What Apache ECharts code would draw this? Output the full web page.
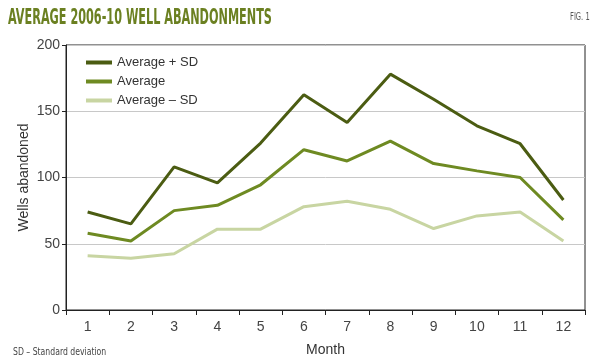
<!DOCTYPE html>
<html><head><meta charset="utf-8">
<script src="https://cdn.jsdelivr.net/npm/echarts@6/dist/echarts.min.js"></script>
<style>html,body{margin:0;padding:0;background:#fff}#c{width:600px;height:362px}</style>
</head><body><div id="c"></div>
<script>
const months = ['1','2','3','4','5','6','7','8','9','10','11','12'];
const avgPlusSD = [74, 65, 108, 96, 126, 162.5, 141.5, 178, 159, 139, 125.5, 83];
const avg = [58, 52, 75, 79, 94.5, 121, 112.5, 127.5, 110.5, 105, 100, 68];
const avgMinusSD = [41, 39, 42.5, 61, 61, 78, 82, 76, 61.5, 71, 74, 52];
const seriesNames = ['Average + SD', 'Average', 'Average \u2013 SD'];
const colors = ['#4b5c12', '#6e8a22', '#c8d5a2'];

const chart = echarts.init(document.getElementById('c'));
const lbl = {fontFamily: 'Liberation Sans, Arial, sans-serif', color: '#444', fontSize: 14};
const condensed = 'DejaVu Sans Condensed, Liberation Sans Narrow, sans-serif';
chart.setOption({
  animation: false,
  graphic: [
    {type: 'text', x: 8, y: 8, scaleX: 0.595, silent: true,
     style: {text: 'AVERAGE 2006-10 WELL ABANDONMENTS', fontFamily: condensed, fontWeight: 'bold', fontSize: 21, fill: '#6b8021', verticalAlign: 'top'}},
    {type: 'text', x: 570, y: 12, scaleX: 0.75, silent: true,
     style: {text: 'FIG. 1', fontFamily: condensed, fontSize: 10, fill: '#555', verticalAlign: 'top'}},
    {type: 'text', x: 13, y: 347, scaleX: 0.86, silent: true,
     style: {text: 'SD \u2013 Standard deviation', fontFamily: condensed, fontSize: 10, fill: '#444', verticalAlign: 'top'}}
  ],
  grid: {left: 66, right: 15, top: 45, bottom: 50, show: true, borderColor: '#222', borderWidth: 1, backgroundColor: 'transparent'},
  legend: {
    orient: 'vertical', left: 81, top: 51, itemGap: 6, itemWidth: 26, itemHeight: 4, icon: 'rect',
    data: seriesNames,
    textStyle: {fontFamily: 'Liberation Sans, Arial, sans-serif', color: '#333', fontSize: 13}
  },
  xAxis: {
    type: 'category', data: months, boundaryGap: true,
    name: 'Month', nameLocation: 'middle', nameGap: 33,
    nameTextStyle: Object.assign({}, lbl, {fontSize: 14, color: '#333'}),
    axisLine: {lineStyle: {color: '#222'}},
    axisTick: {show: true, alignWithLabel: false, length: 5, lineStyle: {color: '#222'}},
    axisLabel: Object.assign({margin: 10}, lbl)
  },
  yAxis: {
    type: 'value', min: 0, max: 200, interval: 50,
    name: 'Wells abandoned', nameLocation: 'middle', nameGap: 35, nameMoveOverlap: false,
    nameTextStyle: Object.assign({}, lbl, {fontSize: 14, color: '#333'}),
    axisLine: {show: true, lineStyle: {color: '#222'}},
    axisTick: {show: true, length: 4, lineStyle: {color: '#222'}},
    axisLabel: Object.assign({margin: 6}, lbl),
    splitLine: {lineStyle: {color: '#c8c8c8'}}
  },
  series: [
    {name: seriesNames[0], type: 'line', data: avgPlusSD, symbol: 'none', lineStyle: {width: 3, color: colors[0]}, itemStyle: {color: colors[0]}, z: 3},
    {name: seriesNames[1], type: 'line', data: avg, symbol: 'none', lineStyle: {width: 3, color: colors[1]}, itemStyle: {color: colors[1]}, z: 2},
    {name: seriesNames[2], type: 'line', data: avgMinusSD, symbol: 'none', lineStyle: {width: 3, color: colors[2]}, itemStyle: {color: colors[2]}, z: 1}
  ]
});
</script></body></html>
